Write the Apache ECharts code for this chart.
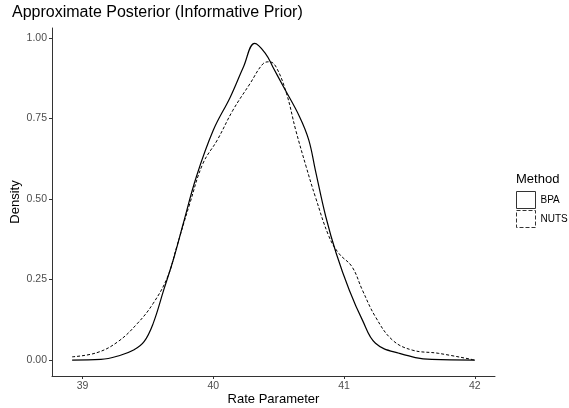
<!DOCTYPE html>
<html><head><meta charset="utf-8">
<script src="https://cdn.jsdelivr.net/npm/echarts@6/dist/echarts.min.js"></script>
<style>html,body{margin:0;padding:0;background:#fff}#c{width:569px;height:408px}</style>
</head><body><div id="c"></div>
<script>
const bpaX = [38.92,39.14,39.29,39.39,39.47,39.54,39.62,39.70,39.77,39.87,40.00,40.13,40.23,40.316,40.40,40.455,40.53,40.66,40.73,40.78,40.86,40.94,41.04,41.14,41.24,41.42,41.67,42.00];
const bpaY = [0.000,0.002,0.015,0.031,0.057,0.114,0.217,0.320,0.424,0.569,0.714,0.817,0.910,0.983,0.951,0.910,0.853,0.755,0.683,0.590,0.445,0.331,0.217,0.124,0.052,0.021,0.002,0.000];
const nutsX = [38.92,39.11,39.27,39.42,39.54,39.65,39.72,39.82,39.92,40.03,40.15,40.28,40.38,40.43,40.48,40.56,40.63,40.71,40.78,40.885,40.96,41.06,41.14,41.24,41.37,41.52,41.72,42.00];
const nutsY = [0.010,0.023,0.057,0.114,0.176,0.258,0.352,0.486,0.610,0.683,0.776,0.858,0.920,0.926,0.910,0.827,0.714,0.600,0.507,0.383,0.331,0.290,0.217,0.134,0.062,0.031,0.021,0.000];
const xTicks = [39,40,41,42];
const yTicks = [0,0.25,0.5,0.75,1.0];
const seriesNames = ['BPA','NUTS'];

const font = 'Liberation Sans, Arial, sans-serif';
const chart = echarts.init(document.getElementById('c'), null, {renderer:'canvas'});
const zip = (xs, ys) => xs.map((x,i)=>[x, ys[i]]);
chart.setOption({
  animation:false,
  backgroundColor:'#fff',
  title:[
    {text:'Approximate Posterior (Informative Prior)', left:12, top:5, padding:0,
     textStyle:{fontFamily:font,fontSize:16,fontWeight:'normal',color:'#000'}},
    {text:'Method', left:516, top:173, padding:0,
     textStyle:{fontFamily:font,fontSize:13,fontWeight:'normal',color:'#000'}}
  ],
  grid:{left:52, right:74, top:28, bottom:32, containLabel:false, outerBoundsMode:'none'},
  legend:{
    orient:'vertical', left:516, top:191, itemWidth:19, itemHeight:17, itemGap:1, padding:0,
    textStyle:{fontFamily:font,fontSize:10,color:'#000'},
    data:[
      {name:seriesNames[0], icon:'rect', itemStyle:{color:'#fff',borderColor:'#333',borderWidth:1,borderType:'solid'}},
      {name:seriesNames[1], icon:'rect', itemStyle:{color:'#fff',borderColor:'#333',borderWidth:1,borderType:'dashed'}}
    ]
  },
  xAxis:{
    type:'value', min:38.766, max:42.154,
    name:'Rate Parameter', nameLocation:'middle', nameGap:17, nameMoveOverlap:false,
    nameTextStyle:{fontFamily:font,fontSize:13,color:'#000'},
    axisLine:{show:true,onZero:false,lineStyle:{color:'#333',width:1}},
    axisTick:{show:true,length:3,customValues:xTicks,lineStyle:{color:'#333'}},
    axisLabel:{customValues:xTicks,fontFamily:font,fontSize:10.5,color:'#4d4d4d',margin:5},
    splitLine:{show:false}
  },
  yAxis:{
    type:'value', min:-0.0495, max:1.031,
    name:'Density', nameLocation:'middle', nameGap:30, nameMoveOverlap:false,
    nameTextStyle:{fontFamily:font,fontSize:13,color:'#000'},
    axisLine:{show:true,onZero:false,lineStyle:{color:'#333',width:1}},
    axisTick:{show:true,length:3,customValues:yTicks,lineStyle:{color:'#333'}},
    axisLabel:{customValues:yTicks,fontFamily:font,fontSize:10.5,color:'#4d4d4d',margin:5,
      formatter:v=>v.toFixed(2)},
    splitLine:{show:false}
  },
  series:[
    {name:seriesNames[0], type:'line', data:zip(bpaX,bpaY), smooth:0.4, showSymbol:false,
     lineStyle:{color:'#000',width:1.2,type:'solid'}, itemStyle:{color:'#fff',borderColor:'#333'}},
    {name:seriesNames[1], type:'line', data:zip(nutsX,nutsY), smooth:0.4, showSymbol:false,
     lineStyle:{color:'#000',width:1,type:[3,2]}, itemStyle:{color:'#fff',borderColor:'#333'}}
  ]
});
</script></body></html>
